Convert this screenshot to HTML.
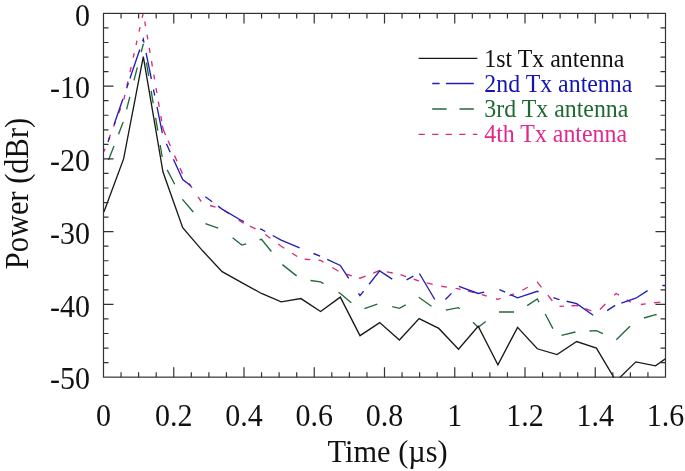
<!DOCTYPE html><html><head><meta charset="utf-8"><title>Power delay profile</title>
<style>html,body{margin:0;padding:0;background:#fff}body{width:685px;height:471px;overflow:hidden}svg{display:block;will-change:transform}text{font-family:"Liberation Serif","Times New Roman",serif;fill:#111}</style></head><body>
<svg width="685" height="471" viewBox="0 0 685 471">
<rect width="685" height="471" fill="#fff"/>
<defs><clipPath id="c"><rect x="103.00" y="12.80" width="563.00" height="364.95"/></clipPath></defs>
<g clip-path="url(#c)" fill="none" stroke-width="1.35" stroke-linejoin="miter">
<path d="M108.50 160.10L114.00 145.89M118.50 134.25L123.20 122.10M126.60 109.33L129.80 96.80M134.00 80.36L137.30 67.44M141.20 52.18L143.30 43.96L143.50 45.15M146.40 62.50L148.64 75.90M151.15 90.90L153.22 103.30M155.64 117.80L157.78 130.60M160.19 145.00L162.20 157.00M167.20 169.88L174.70 184.28M182.50 199.26L182.70 199.64L193.30 211.97M205.40 223.61L218.20 228.10M232.60 237.80L241.80 245.11L246.20 243.81M259.50 239.88L261.50 239.29L271.40 251.54M282.40 264.61L296.60 275.89M310.50 280.54L320.60 281.85L323.50 283.56M338.50 292.42L340.30 293.49L351.30 302.83M364.40 308.68L377.30 304.15M392.20 306.54L399.40 308.40L405.70 304.91M418.80 297.65L419.10 297.49L431.50 306.23M445.80 310.07L458.50 307.67L459.70 308.87M473.00 322.18L478.20 327.39L485.70 321.54M499.00 312.04L514.00 312.04M527.20 305.66L537.30 298.94L539.00 302.18M545.20 313.97L552.90 328.61M561.50 335.33L575.40 331.99M589.50 330.97L596.40 330.59L602.90 333.71M616.30 339.85L630.00 326.19M644.00 317.98L655.50 314.58L656.70 314.81" stroke="#226a3a"/>
<path d="M103.99 151.40L104.99 148.80M108.63 139.40L110.41 134.80M113.58 126.60L115.40 121.90M118.84 113.00L120.66 108.30M123.87 99.50L124.92 94.80M126.89 86.00L127.94 81.30M130.00 72.10L131.14 67.00M133.25 57.60L134.23 53.20M136.07 45.00L137.05 40.60M139.04 31.70L140.07 27.10M142.13 17.90L143.27 12.80M144.79 21.50L145.57 26.10M147.03 34.70L147.81 39.30M149.25 47.80L150.11 52.90M151.51 61.20L152.38 66.30M153.78 74.60L154.59 79.40M156.05 88.00L156.89 93.00M158.37 101.70L159.23 106.80M160.80 116.10L161.67 121.20M162.40 125.53L163.00 129.07L165.60 135.03M168.10 140.75L170.40 146.02M174.50 155.40L177.00 161.13M180.00 168.00L182.50 173.72M189.00 183.48L192.00 187.92M198.00 196.78L201.20 201.50M210.00 205.52L215.50 207.15M224.50 210.69L229.00 213.68M238.70 220.13L241.80 222.19L243.80 223.15M249.90 226.08L255.60 228.82M265.30 234.46L270.40 238.22M278.30 244.06L281.20 246.20L284.30 248.20M292.10 253.24L297.20 256.54M304.70 259.21L310.30 259.63M318.60 260.24L320.60 260.39L323.50 262.15M332.30 267.52L338.50 271.29M346.60 274.25L351.80 275.79M358.90 277.89L360.00 278.21L365.60 276.04M373.20 273.09L379.70 270.57L380.00 270.63M386.80 271.88L392.70 272.97M400.50 274.59L406.00 276.52M413.70 279.23L418.80 281.01M426.60 282.92L432.70 284.38M441.30 286.24L447.00 287.12M455.60 288.45L458.50 288.90L460.70 289.42M467.90 291.09L474.40 292.60M481.80 294.55L486.70 296.00M496.00 298.75L497.90 299.31L500.60 298.41M509.30 295.52L514.00 293.96M522.30 290.23L527.80 287.26M537.00 282.30L537.30 282.14L541.50 287.35M547.80 295.17L552.30 300.75M559.50 306.44L564.00 306.19M571.50 305.78L576.70 305.49L578.20 306.05M585.40 308.74L591.30 310.94M599.90 309.40L605.40 304.00M614.30 295.26L616.10 293.49L619.00 295.20M626.70 299.75L631.00 302.29M640.80 304.48L645.70 303.85M654.20 302.75L655.50 302.58L660.30 302.14" stroke="#d82c7c" stroke-miterlimit="30"/>
<path d="M108.00 142.00L109.70 137.10M114.00 124.71L122.90 99.08M126.60 88.25L128.40 82.97M129.90 78.57L139.80 49.50M142.60 41.28L143.30 39.23L144.00 42.68M146.07 52.90L151.37 79.00M153.50 89.50L154.71 95.50M157.01 106.80L162.34 133.10M166.40 143.82L170.20 152.17M173.40 159.20L182.70 179.63L191.00 185.92M205.30 196.69L212.20 201.79M218.10 206.14L222.10 209.10L241.80 220.74L243.80 221.62M260.10 228.85L261.50 229.47L265.30 231.52M272.70 235.51L281.20 240.09L299.60 247.84M313.50 253.50L320.10 256.18M327.20 259.43L340.30 265.48L348.70 278.35M358.50 293.37L360.00 295.67L363.60 291.15M369.10 284.24L379.70 270.94L392.20 279.11M406.60 279.85L413.30 276.16M419.40 273.48L434.80 299.53M445.40 299.56L451.50 293.35M458.90 286.36L478.20 293.49L484.20 292.09M499.40 289.59L505.20 292.22M510.40 294.58L517.60 297.85L537.30 291.31L538.60 291.81M553.40 297.55L557.00 298.94L559.50 299.54M566.60 301.25L576.70 303.67L593.20 315.25M607.10 310.58L615.20 305.35M621.30 303.04L635.80 298.22L647.60 290.59M662.30 285.48L666.00 285.48" stroke="#2020b8"/>
<polyline points="103.90,212.01 123.60,158.90 143.30,56.69 163.00,172.00 182.70,227.65 202.40,250.57 222.10,271.66 241.80,282.57 261.50,293.49 281.20,301.85 300.90,298.58 320.60,311.46 340.30,297.12 360.00,335.68 379.70,322.59 399.40,340.05 419.10,318.59 438.80,328.41 458.50,349.14 478.20,326.22 497.90,364.78 517.60,327.32 537.30,348.78 557.00,354.60 576.70,341.50 596.40,348.05 616.10,381.22 635.80,361.87 655.50,365.87 675.20,351.69" stroke="#1a1a1a"/>
</g>
<g stroke="#333" stroke-width="1.2" fill="none">
<rect x="103.50" y="13.40" width="562.00" height="363.75"/>
<path d="M121.06 13.40v5M121.06 377.15v-5M138.62 13.40v5M138.62 377.15v-5M156.19 13.40v5M156.19 377.15v-5M173.75 13.40v10M173.75 377.15v-10M191.31 13.40v5M191.31 377.15v-5M208.88 13.40v5M208.88 377.15v-5M226.44 13.40v5M226.44 377.15v-5M244.00 13.40v10M244.00 377.15v-10M261.56 13.40v5M261.56 377.15v-5M279.12 13.40v5M279.12 377.15v-5M296.69 13.40v5M296.69 377.15v-5M314.25 13.40v10M314.25 377.15v-10M331.81 13.40v5M331.81 377.15v-5M349.38 13.40v5M349.38 377.15v-5M366.94 13.40v5M366.94 377.15v-5M384.50 13.40v10M384.50 377.15v-10M402.06 13.40v5M402.06 377.15v-5M419.62 13.40v5M419.62 377.15v-5M437.19 13.40v5M437.19 377.15v-5M454.75 13.40v10M454.75 377.15v-10M472.31 13.40v5M472.31 377.15v-5M489.88 13.40v5M489.88 377.15v-5M507.44 13.40v5M507.44 377.15v-5M525.00 13.40v10M525.00 377.15v-10M542.56 13.40v5M542.56 377.15v-5M560.12 13.40v5M560.12 377.15v-5M577.69 13.40v5M577.69 377.15v-5M595.25 13.40v10M595.25 377.15v-10M612.81 13.40v5M612.81 377.15v-5M630.38 13.40v5M630.38 377.15v-5M647.94 13.40v5M647.94 377.15v-5M103.50 27.95h5M665.50 27.95h-5M103.50 42.50h5M665.50 42.50h-5M103.50 57.05h5M665.50 57.05h-5M103.50 71.60h5M665.50 71.60h-5M103.50 86.15h10M665.50 86.15h-10M103.50 100.70h5M665.50 100.70h-5M103.50 115.25h5M665.50 115.25h-5M103.50 129.80h5M665.50 129.80h-5M103.50 144.35h5M665.50 144.35h-5M103.50 158.90h10M665.50 158.90h-10M103.50 173.45h5M665.50 173.45h-5M103.50 188.00h5M665.50 188.00h-5M103.50 202.55h5M665.50 202.55h-5M103.50 217.10h5M665.50 217.10h-5M103.50 231.65h10M665.50 231.65h-10M103.50 246.20h5M665.50 246.20h-5M103.50 260.75h5M665.50 260.75h-5M103.50 275.30h5M665.50 275.30h-5M103.50 289.85h5M665.50 289.85h-5M103.50 304.40h10M665.50 304.40h-10M103.50 318.95h5M665.50 318.95h-5M103.50 333.50h5M665.50 333.50h-5M103.50 348.05h5M665.50 348.05h-5M103.50 362.60h5M665.50 362.60h-5"/>
</g>
<g font-size="30">
<text transform="translate(90.00,25.70) scale(1.000,1.075)" text-anchor="end">0</text>
<text transform="translate(90.00,98.45) scale(1.000,1.075)" text-anchor="end">-10</text>
<text transform="translate(90.00,171.20) scale(1.000,1.075)" text-anchor="end">-20</text>
<text transform="translate(90.00,243.95) scale(1.000,1.075)" text-anchor="end">-30</text>
<text transform="translate(90.00,316.70) scale(1.000,1.075)" text-anchor="end">-40</text>
<text transform="translate(90.00,389.45) scale(1.000,1.075)" text-anchor="end">-50</text>
<text transform="translate(103.50,426.10) scale(1.000,1.075)" text-anchor="middle">0</text>
<text transform="translate(173.75,426.10) scale(1.000,1.075)" text-anchor="middle">0.2</text>
<text transform="translate(244.00,426.10) scale(1.000,1.075)" text-anchor="middle">0.4</text>
<text transform="translate(314.25,426.10) scale(1.000,1.075)" text-anchor="middle">0.6</text>
<text transform="translate(384.50,426.10) scale(1.000,1.075)" text-anchor="middle">0.8</text>
<text transform="translate(454.75,426.10) scale(1.000,1.075)" text-anchor="middle">1</text>
<text transform="translate(525.00,426.10) scale(1.000,1.075)" text-anchor="middle">1.2</text>
<text transform="translate(595.25,426.10) scale(1.000,1.075)" text-anchor="middle">1.4</text>
<text transform="translate(665.50,426.10) scale(1.000,1.075)" text-anchor="middle">1.6</text>
<text transform="translate(387.60,461.50) scale(1.012,1.040)" text-anchor="middle">Time (µs)</text>
<text transform="translate(28.00,193.50) rotate(-90) scale(1.015,1.090)" text-anchor="middle">Power (dBr)</text>
</g>
<g font-size="24">
<text transform="translate(484.30,66.70) scale(0.995,1.075)" text-anchor="start" style="fill:#111">1st Tx antenna</text>
<text transform="translate(484.30,91.90) scale(0.995,1.075)" text-anchor="start" style="fill:#1414b4">2nd Tx antenna</text>
<text transform="translate(484.30,117.10) scale(0.995,1.075)" text-anchor="start" style="fill:#1c6a32">3rd Tx antenna</text>
<text transform="translate(484.30,142.30) scale(0.995,1.075)" text-anchor="start" style="fill:#e2288a">4th Tx antenna</text>
</g>
<g fill="none" stroke-width="1.35">
<path d="M418.6 58.3H477.4" stroke="#1a1a1a"/>
<path d="M432.2 83.5H439.6M445.9 83.5H473.8" stroke="#2020b8"/>
<path d="M432.2 109H446.7M459.5 109H473.8" stroke="#226a3a"/>
<path d="M418.6 134.4H477.4" stroke="#d82c7c" stroke-dasharray="6.2 7.35"/>
</g>
</svg></body></html>
